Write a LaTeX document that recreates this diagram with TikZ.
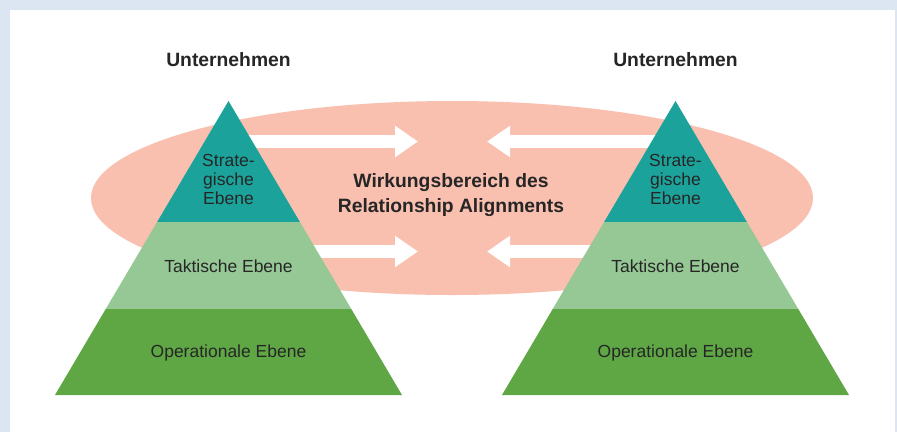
\documentclass[tikz,border=0pt]{standalone}
\usepackage{fontspec}
\setmainfont{Liberation Sans}
\usetikzlibrary{arrows.meta}
\definecolor{bgblue}{HTML}{DCE6F3}
\definecolor{salmon}{HTML}{F9BFAF}
\definecolor{teal1}{HTML}{1BA39B}
\definecolor{lgreen}{HTML}{95C894}
\definecolor{dgreen}{HTML}{5FA745}
\definecolor{txt}{HTML}{262626}
\begin{document}
\begin{tikzpicture}[x=1pt,y=-1pt,
  lbl/.style={text=txt,align=center,inner sep=0pt,font=\fontsize{17.5}{19.2}\selectfont},
  ttl/.style={text=txt,align=center,inner sep=0pt,font=\bfseries\fontsize{19.3}{25}\selectfont},
  bigarrow/.style={draw=white,line width=13pt,line cap=butt,-{Triangle[length=23pt,width=30pt]}}]
\fill[bgblue] (0,0) rectangle (897,432);
\fill[white] (10,10) rectangle (895,432);
\useasboundingbox (0,0) rectangle (897,432);
% ellipse
\fill[salmon] (452,198) ellipse [x radius=361, y radius=97];
% arrow end points
\coordinate (a1s) at (240,141.5); \coordinate (a1e) at (418,141.5);
\coordinate (a2s) at (665,141.5); \coordinate (a2e) at (487,141.5);
\coordinate (a3s) at (300,251.5); \coordinate (a3e) at (418,251.5);
\coordinate (a4s) at (600,251.5); \coordinate (a4e) at (487,251.5);
\draw[bigarrow] (a1s) -- (a1e);
\draw[bigarrow] (a2s) -- (a2e);
\draw[bigarrow] (a3s) -- (a3e);
\draw[bigarrow] (a4s) -- (a4e);
% pyramids
\foreach \c/\n in {228.5/L,675.5/R}{
  \fill[teal1] (\c,101) -- (\c+71.4,222) -- (\c-71.4,222) -- cycle;
  \fill[lgreen] (\c-71.4,222) -- (\c+71.4,222) -- (\c+122.6,308.7) -- (\c-122.6,308.7) -- cycle;
  \fill[dgreen] (\c-122.6,308.7) -- (\c+122.6,308.7) -- (\c+173.5,395) -- (\c-173.5,395) -- cycle;
  \node[lbl] (strat\n) at (\c,179.5) {Strate-\\gische\\Ebene};
  \node[lbl] (takt\n) at (\c,266.5) {Taktische Ebene};
  \node[lbl] (oper\n) at (\c,353) {Operationale Ebene};
  \node[ttl] (unt\n) at (\c,60) {Unternehmen};
}
\node[ttl] (wb) at (451,195.5) {Wirkungsbereich des\\Relationship Alignments};
\end{tikzpicture}
\end{document}
